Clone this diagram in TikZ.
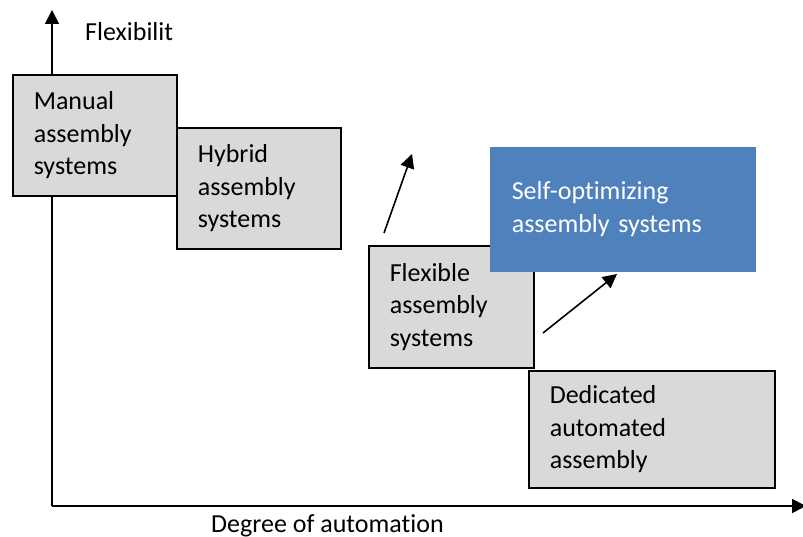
\documentclass[tikz,border=0pt]{standalone}
\usepackage{fontspec}
\setmainfont[Ligatures=NoCommon]{Carlito}
\usetikzlibrary{arrows.meta}
\definecolor{boxgray}{HTML}{D9D9D9}
\definecolor{boxblue}{HTML}{4F81BD}
\tikzset{
  txt/.style={font=\fontsize{26}{32.5}\selectfont},
  stage/.style={txt,draw=black,line width=1.6pt,fill=boxgray,anchor=north west,
    align=left,inner xsep=21pt,inner ysep=0pt},
  hilite/.style={stage,draw=boxblue,fill=boxblue,text=white},
  arr/.style={line width=1.6pt,-{Triangle[length=14pt,width=14pt]}}
}
\begin{document}
\begin{tikzpicture}[x=1pt,y=-1pt]
  \useasboundingbox (0,0) rectangle (803,537);
  % axes
  \coordinate (origin) at (52,506);
  \coordinate (ytop) at (52,10);
  \coordinate (xend) at (806,506);
  \draw[arr] (origin) -- (ytop);
  \draw[arr] (origin) -- (xend);
  \node[txt,anchor=base west,inner sep=0pt] (ylab) at (85,41) {Flexibilit};
  \node[txt,anchor=base west,inner sep=0pt] (xlab) at (211,532) {Degree of automation};
  % boxes
  \node[stage,minimum width=164pt,minimum height=121pt,text width=122pt] (manual) at (12,74)
    {Manual\\assembly\\systems};
  \node[stage,minimum width=164pt,minimum height=121pt,text width=122pt] (hybrid) at (176,127)
    {Hybrid\\assembly\\systems};
  \node[stage,minimum width=165pt,minimum height=122pt,text width=123pt] (flexible) at (368,245)
    {Flexible\\assembly\\systems};
  \node[hilite,minimum width=264pt,minimum height=123pt,text width=222pt] (selfopt) at (490,147)
    {Self-optimizing\\assembly systems};
  \node[stage,minimum width=246pt,minimum height=117pt,text width=204pt] (dedicated) at (528,370)
    {Dedicated\\automated\\assembly};
  % trend arrows
  \coordinate (up1) at (384,233);
  \coordinate (up2) at (412,154);
  \coordinate (up3) at (543,333);
  \coordinate (up4) at (617,274);
  \draw[arr] (up1) -- (up2);
  \draw[arr] (up3) -- (up4);
\end{tikzpicture}
\end{document}
